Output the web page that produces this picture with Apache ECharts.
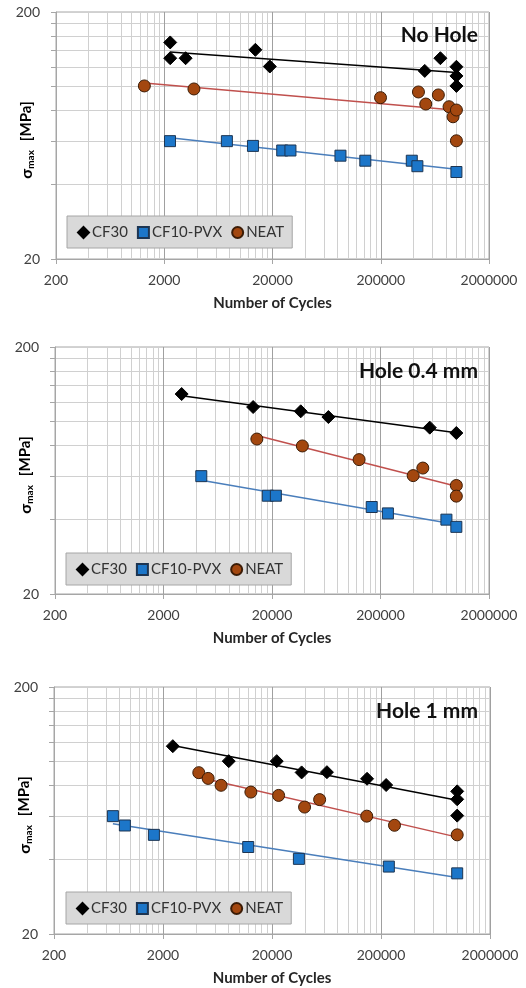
<!DOCTYPE html>
<html><head><meta charset="utf-8">
<script src="https://cdn.jsdelivr.net/npm/echarts@6/dist/echarts.min.js"></script>
<style>html,body{margin:0;padding:0;background:#fff}#c{width:526px;height:988px}</style>
</head><body><div id="c"></div>
<script>
// ---------- data ----------
const seriesNames = ['CF30', 'CF10-PVX', 'NEAT'];
const panelTitles = ['No Hole', 'Hole 0.4 mm', 'Hole 1 mm'];
const xTickLabels = [200, 2000, 20000, 200000, 2000000];
const yTickLabels = [20, 200];
const xMinorGrid = [400, 600, 800, 1000, 1200, 1400, 1600, 1800,
  4000, 6000, 8000, 10000, 12000, 14000, 16000, 18000,
  40000, 60000, 80000, 100000, 120000, 140000, 160000, 180000,
  400000, 600000, 800000, 1000000, 1200000, 1400000, 1600000, 1800000];
const yGridTicks = [20, 40, 60, 80, 100, 120, 140, 160, 180, 200];

// Panel 1: No Hole  [cycles, sigma_max MPa]
const noHoleCF30 = [[2270, 150.6], [2270, 130], [3150, 130], [13900, 140.6], [18900, 120.3],
  [510000, 115.5], [711000, 130], [1000000, 120], [1000000, 110.2], [1000000, 100.4]];
const noHoleCF10 = [[2260, 60], [7580, 60], [13200, 57.4], [24600, 55], [29300, 55],
  [84900, 52.4], [144000, 50], [387000, 50], [436000, 47.5], [1000000, 45]];
const noHoleNEAT = [[1310, 100.4], [3760, 97.6], [199000, 90], [446000, 94.9], [521000, 84.8],
  [681000, 92.3], [855000, 82.7], [931000, 75.3], [1000000, 80.2], [1000000, 60.2]];

// Panel 2: Hole 0.4 mm
const hole04CF30 = [[2940, 129], [13400, 114.3], [36800, 109.8], [66200, 104.1], [569000, 94.3], [1000000, 89.7]];
const hole04CF10 = [[4460, 60], [18300, 50], [21700, 50], [166000, 45], [234000, 42.4], [810000, 40], [1000000, 37.4]];
const hole04NEAT = [[14500, 84.8], [38100, 79.5], [127000, 70], [400000, 60.3], [491000, 64.7], [1000000, 55], [1000000, 49.8]];

// Panel 3: Hole 1 mm
const hole1CF30 = [[2460, 115.2], [8020, 100.2], [22100, 100.2], [37400, 90.2], [63800, 90.4],
  [149000, 85], [223000, 80.2], [1000000, 75.6], [1000000, 70.2], [1000000, 60.3]];
const hole1CF10 = [[694, 60], [894, 55], [1650, 50.4], [12100, 45], [35300, 40.3], [236000, 37.5], [1000000, 35.2]];
const hole1NEAT = [[4260, 90], [5190, 85.3], [6820, 80], [12800, 75.1], [23000, 72.8], [39800, 65.3],
  [54700, 70], [148000, 60], [266000, 55.1], [1000000, 50.4]];

// ---------- layout / style ----------
const FONT = 'Lato';
const panels = [
  { data: [noHoleCF30, noHoleCF10, noHoleNEAT], grid: { left: 56, top: 12, width: 433, height: 247 }, legendTop: 216, legendLeft: 67, titleTop: 25 },
  { data: [hole04CF30, hole04CF10, hole04NEAT], grid: { left: 55, top: 347, width: 434, height: 247 }, legendTop: 553, legendLeft: 66, titleTop: 361 },
  { data: [hole1CF30, hole1CF10, hole1NEAT], grid: { left: 54, top: 687, width: 436, height: 247 }, legendTop: 892, legendLeft: 66, titleTop: 701 }
];
const styles = [
  { symbol: 'diamond', size: 13, color: '#000000', border: '#000000', line: '#000000' },
  { symbol: 'rect', size: 11, color: '#1c76c9', border: '#1d3552', line: '#4a7ebb' },
  { symbol: 'circle', size: 12, color: '#a3470f', border: '#3c1c06', line: '#c0504d' }
];

function powerFit(pts) {
  const n = pts.length; let sx = 0, sy = 0, sxx = 0, sxy = 0;
  for (const [x, y] of pts) { const lx = Math.log10(x), ly = Math.log10(y); sx += lx; sy += ly; sxx += lx * lx; sxy += lx * ly; }
  const b = (n * sxy - sx * sy) / (n * sxx - sx * sx);
  const a = (sy - b * sx) / n;
  const xs = pts.map(p => p[0]);
  const x0 = Math.min(...xs), x1 = Math.max(...xs);
  return [[x0, Math.pow(10, a + b * Math.log10(x0))], [x1, Math.pow(10, a + b * Math.log10(x1))]];
}

const grids = [], xAxes = [], yAxes = [], series = [], legends = [], titles = [];
panels.forEach((p, i) => {
  grids.push(Object.assign({ show: true, borderColor: '#a6a6a6', borderWidth: 1, backgroundColor: 'transparent',
    outerBoundsMode: 'none', containLabel: false }, p.grid));
  xAxes.push({
    type: 'log', logBase: 10, gridIndex: i, min: xTickLabels[0], max: xTickLabels[xTickLabels.length - 1],
    name: 'Number of Cycles', nameLocation: 'middle', nameGap: 37, nameMoveOverlap: false,
    nameTextStyle: { fontFamily: FONT, fontWeight: 'bold', fontSize: 15, color: '#262626' },
    axisLine: { show: true, lineStyle: { color: '#a6a6a6' } },
    axisTick: { show: true, length: 5, customValues: xTickLabels, lineStyle: { color: '#a6a6a6' } },
    axisLabel: { fontFamily: FONT, fontSize: 14, color: '#404040', margin: 14, customValues: xTickLabels,
      showMinLabel: true, showMaxLabel: true, hideOverlap: false,
      formatter: v => String(Math.round(v)) },
    splitLine: { show: true, lineStyle: { color: '#a0a0a0', width: 1 } },
    minorTick: { show: false }, minorSplitLine: { show: false }
  });
  yAxes.push({
    type: 'log', logBase: 10, gridIndex: i, min: yTickLabels[0], max: yTickLabels[1],
    name: '{a|σ}{b|max}{c|[MPa]}', nameLocation: 'middle', nameGap: 20, nameRotate: 90, nameMoveOverlap: false,
    nameTextStyle: { rich: {
      a: { fontFamily: FONT, fontWeight: 'bold', fontSize: 16, color: '#000' },
      b: { fontFamily: FONT, fontWeight: 'bold', fontSize: 10, color: '#000', padding: [9, 0, 0, 0] },
      c: { fontFamily: FONT, fontWeight: 'bold', fontSize: 15, color: '#000', padding: [0, 9, 0, 9] } } },
    axisLine: { show: true, lineStyle: { color: '#a6a6a6' } },
    axisTick: { show: true, length: 5, customValues: yGridTicks, lineStyle: { color: '#a6a6a6' } },
    axisLabel: { fontFamily: FONT, fontSize: 14, color: '#404040', margin: 16, customValues: yTickLabels,
      showMinLabel: true, showMaxLabel: true, hideOverlap: false,
      formatter: v => String(Math.round(v)) },
    splitLine: { show: true, lineStyle: { color: '#d0d0d0', width: 1 } }
  });
  // light vertical gridlines at the minor cycle positions
  series.push({
    type: 'line', name: 'grid' + i, xAxisIndex: i, yAxisIndex: i, data: [], silent: true, z: 0,
    markLine: { silent: true, symbol: 'none', z: 0, animation: false, label: { show: false },
      lineStyle: { color: '#d0d0d0', width: 1, type: 'solid' },
      emphasis: { disabled: true },
      data: xMinorGrid.map(v => ({ xAxis: v })) }
  });
  p.data.forEach((d, k) => {
    const s = styles[k];
    series.push({
      type: 'line', name: 'trend ' + seriesNames[k] + i, xAxisIndex: i, yAxisIndex: i,
      data: powerFit(d), symbol: 'none', silent: true, z: 2,
      lineStyle: { color: s.line, width: 1.5 }
    });
    series.push({
      type: 'scatter', name: seriesNames[k], xAxisIndex: i, yAxisIndex: i, data: d, z: 3,
      symbol: s.symbol, symbolSize: s.size,
      itemStyle: { color: s.color, borderColor: s.border, borderWidth: 1, opacity: 1 }
    });
  });
  legends.push({
    data: seriesNames, left: p.legendLeft, top: p.legendTop, orient: 'horizontal',
    backgroundColor: '#d9d9d9', borderColor: '#a6a6a6', borderWidth: 1, padding: [9, 8, 8, 10],
    itemWidth: 11, itemHeight: 11, itemGap: 9, selectedMode: false,
    textStyle: { fontFamily: FONT, fontSize: 15, color: '#333', padding: [0, 0, 0, -2] }
  });
  titles.push({
    text: panelTitles[i], right: 48, top: p.titleTop, padding: 0,
    textStyle: { fontFamily: FONT, fontWeight: 'bold', fontSize: 21, color: '#111' }
  });
});

const chart = echarts.init(document.getElementById('c'), null, { renderer: 'canvas' });
chart.setOption({
  animation: false, backgroundColor: '#fff',
  title: titles, grid: grids, xAxis: xAxes, yAxis: yAxes, legend: legends, series: series
});
</script></body></html>
